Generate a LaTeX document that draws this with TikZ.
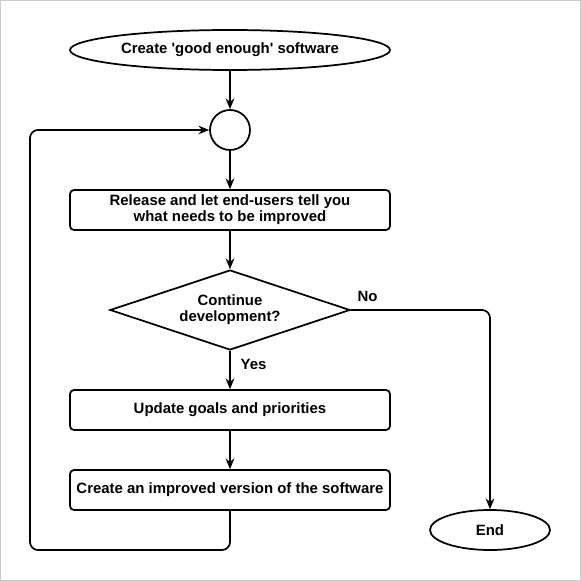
\documentclass[tikz,border=0pt]{standalone}
\usepackage{fontspec}
\setmainfont{Liberation Sans}
\usetikzlibrary{arrows.meta,shapes.geometric}
\tikzset{
	flowline/.style={line width=1.3pt, -{Stealth[length=8pt,width=6.5pt]}, rounded corners=6pt},
	startend/.style={ellipse, draw, line width=1.3pt, inner sep=0pt},
	stepbox/.style={rectangle, draw, line width=1.3pt, rounded corners=3pt, minimum width=240pt, minimum height=30pt, inner sep=0pt, align=center},
	decision/.style={diamond, draw, line width=1.3pt, shape aspect=3, minimum width=180pt, minimum height=60pt, inner sep=0pt, align=center},
	joint/.style={circle, draw, line width=1.3pt, minimum size=30pt, inner sep=0pt},
	every node/.style={font=\fontsize{11.2pt}{12pt}\selectfont\bfseries}
}
\begin{document}
\begin{tikzpicture}[x=0.75pt, y=-0.75pt]
			%%%%% START %%%%%
			
			\useasboundingbox (0,0) rectangle (581,581);
			\draw[line width=1.1pt, color=black!20] (0.5,0.5) rectangle (580.5,580.5);
			
			\node[startend, minimum width=240pt, minimum height=30pt] (create) at (230,50) {Create \textquotesingle good enough\textquotesingle{} software};
			\node[joint] (merge) at (230,130) {};
			\node[stepbox] (release) at (230,210) {Release and let end-users tell you\\what needs to be improved};
			\node[decision] (continue) at (230,310) {Continue\\development?};
			\node[stepbox] (update) at (230,410) {Update goals and priorities};
			\node[stepbox] (improve) at (230,490) {Create an improved version of the software};
			\node[startend, minimum width=90pt, minimum height=30pt] (finish) at (490,530) {End};
			
			\draw[flowline] (create) -- (merge);
			\draw[flowline] (merge) -- (release);
			\draw[flowline] (release) -- (continue);
			\draw[flowline] (continue) -- node[right, xshift=4pt, yshift=4pt] {Yes} (update);
			\draw[flowline] (update) -- (improve);
			\draw[flowline] (improve.south) |- (30,550) |- (merge.west);
			\draw[flowline] (continue.east) -| node[pos=0.06, above, yshift=2pt] {No} (finish.north);
			
			%%%%% END %%%%%
		\end{tikzpicture}
\end{document}
